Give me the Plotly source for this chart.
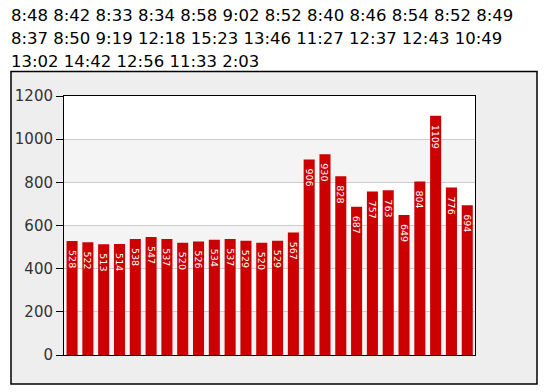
import plotly.graph_objects as go

times = ["8:48", "8:42", "8:33", "8:34", "8:58", "9:02", "8:52", "8:40", "8:46", "8:54", "8:52", "8:49",
         "8:37", "8:50", "9:19", "12:18", "15:23", "13:46", "11:27", "12:37", "12:43", "10:49",
         "13:02", "14:42", "12:56", "11:33", "2:03"]
title_lines = [times[0:12], times[12:22], times[22:]]

values = [528, 522, 513, 514, 538, 547, 537, 520, 526, 534, 537, 529, 520, 529, 567,
          906, 930, 828, 687, 757, 763, 649, 804, 1109, 776, 694]
positions = list(range(len(values)))
y_ticks = [0, 200, 400, 600, 800, 1000, 1200]

fig = go.Figure()
fig.add_trace(go.Bar(
    x=positions, y=values,
    marker=dict(color="#cc0000", line=dict(width=0)),
    text=["\u00a0\u00a0" + str(v) for v in values],
    textposition="inside",
    insidetextanchor="end",
    textangle=90,
    constraintext="none",
    textfont=dict(family="DejaVu Sans", size=9.5, color="white"),
    hoverinfo="skip",
))

shapes = [
    dict(type="rect", xref="paper", yref="paper", x0=(11 - 64) / 411, x1=(537 - 64) / 411,
         y0=-(384 - 355) / 259.5, y1=(355 - 71) / 259.5,
         fillcolor="#eeeeee", line=dict(color="black", width=1.5), layer="below"),
    dict(type="rect", xref="paper", yref="paper", x0=0, x1=1, y0=0, y1=1,
         fillcolor="white", line=dict(width=0), layer="below"),
]
for lo in y_ticks[:-1]:
    if (lo // 200) % 2 == 0:
        shapes.append(dict(type="rect", xref="paper", yref="y", x0=0, x1=1, y0=lo, y1=lo + 200,
                           fillcolor="#f4f4f4", line=dict(width=0), layer="below"))

annotations = []
line_y = [14.5, 37.5, 60.5]
for line, py in zip(title_lines, line_y):
    annotations.append(dict(
        text=" ".join(line), xref="paper", yref="paper",
        x=(9 - 64) / 411, y=(355 - py) / 259.5, xanchor="left", yanchor="middle",
        showarrow=False, font=dict(family="DejaVu Sans", size=16.5, color="black"),
    ))

fig.update_layout(
    width=544, height=392,
    margin=dict(l=64, r=69, t=96, b=37),
    paper_bgcolor="white",
    plot_bgcolor="rgba(0,0,0,0)",
    showlegend=False,
    bargap=0.30,
    shapes=shapes,
    annotations=annotations,
    xaxis=dict(range=[-0.51, len(values) - 1 + 0.49], showticklabels=False, ticks="",
               showgrid=False, zeroline=False, showline=True, linecolor="black",
               linewidth=1, mirror=True),
    yaxis=dict(range=[0, 1200], tickvals=y_ticks, ticks="outside", ticklen=7,
               tickcolor="black", tickfont=dict(family="DejaVu Sans", size=15, color="#333333"),
               showgrid=True, gridcolor="#cccccc", gridwidth=1, zeroline=False,
               showline=True, linecolor="black", linewidth=1, mirror=True),
)

fig.write_html("out.html")
